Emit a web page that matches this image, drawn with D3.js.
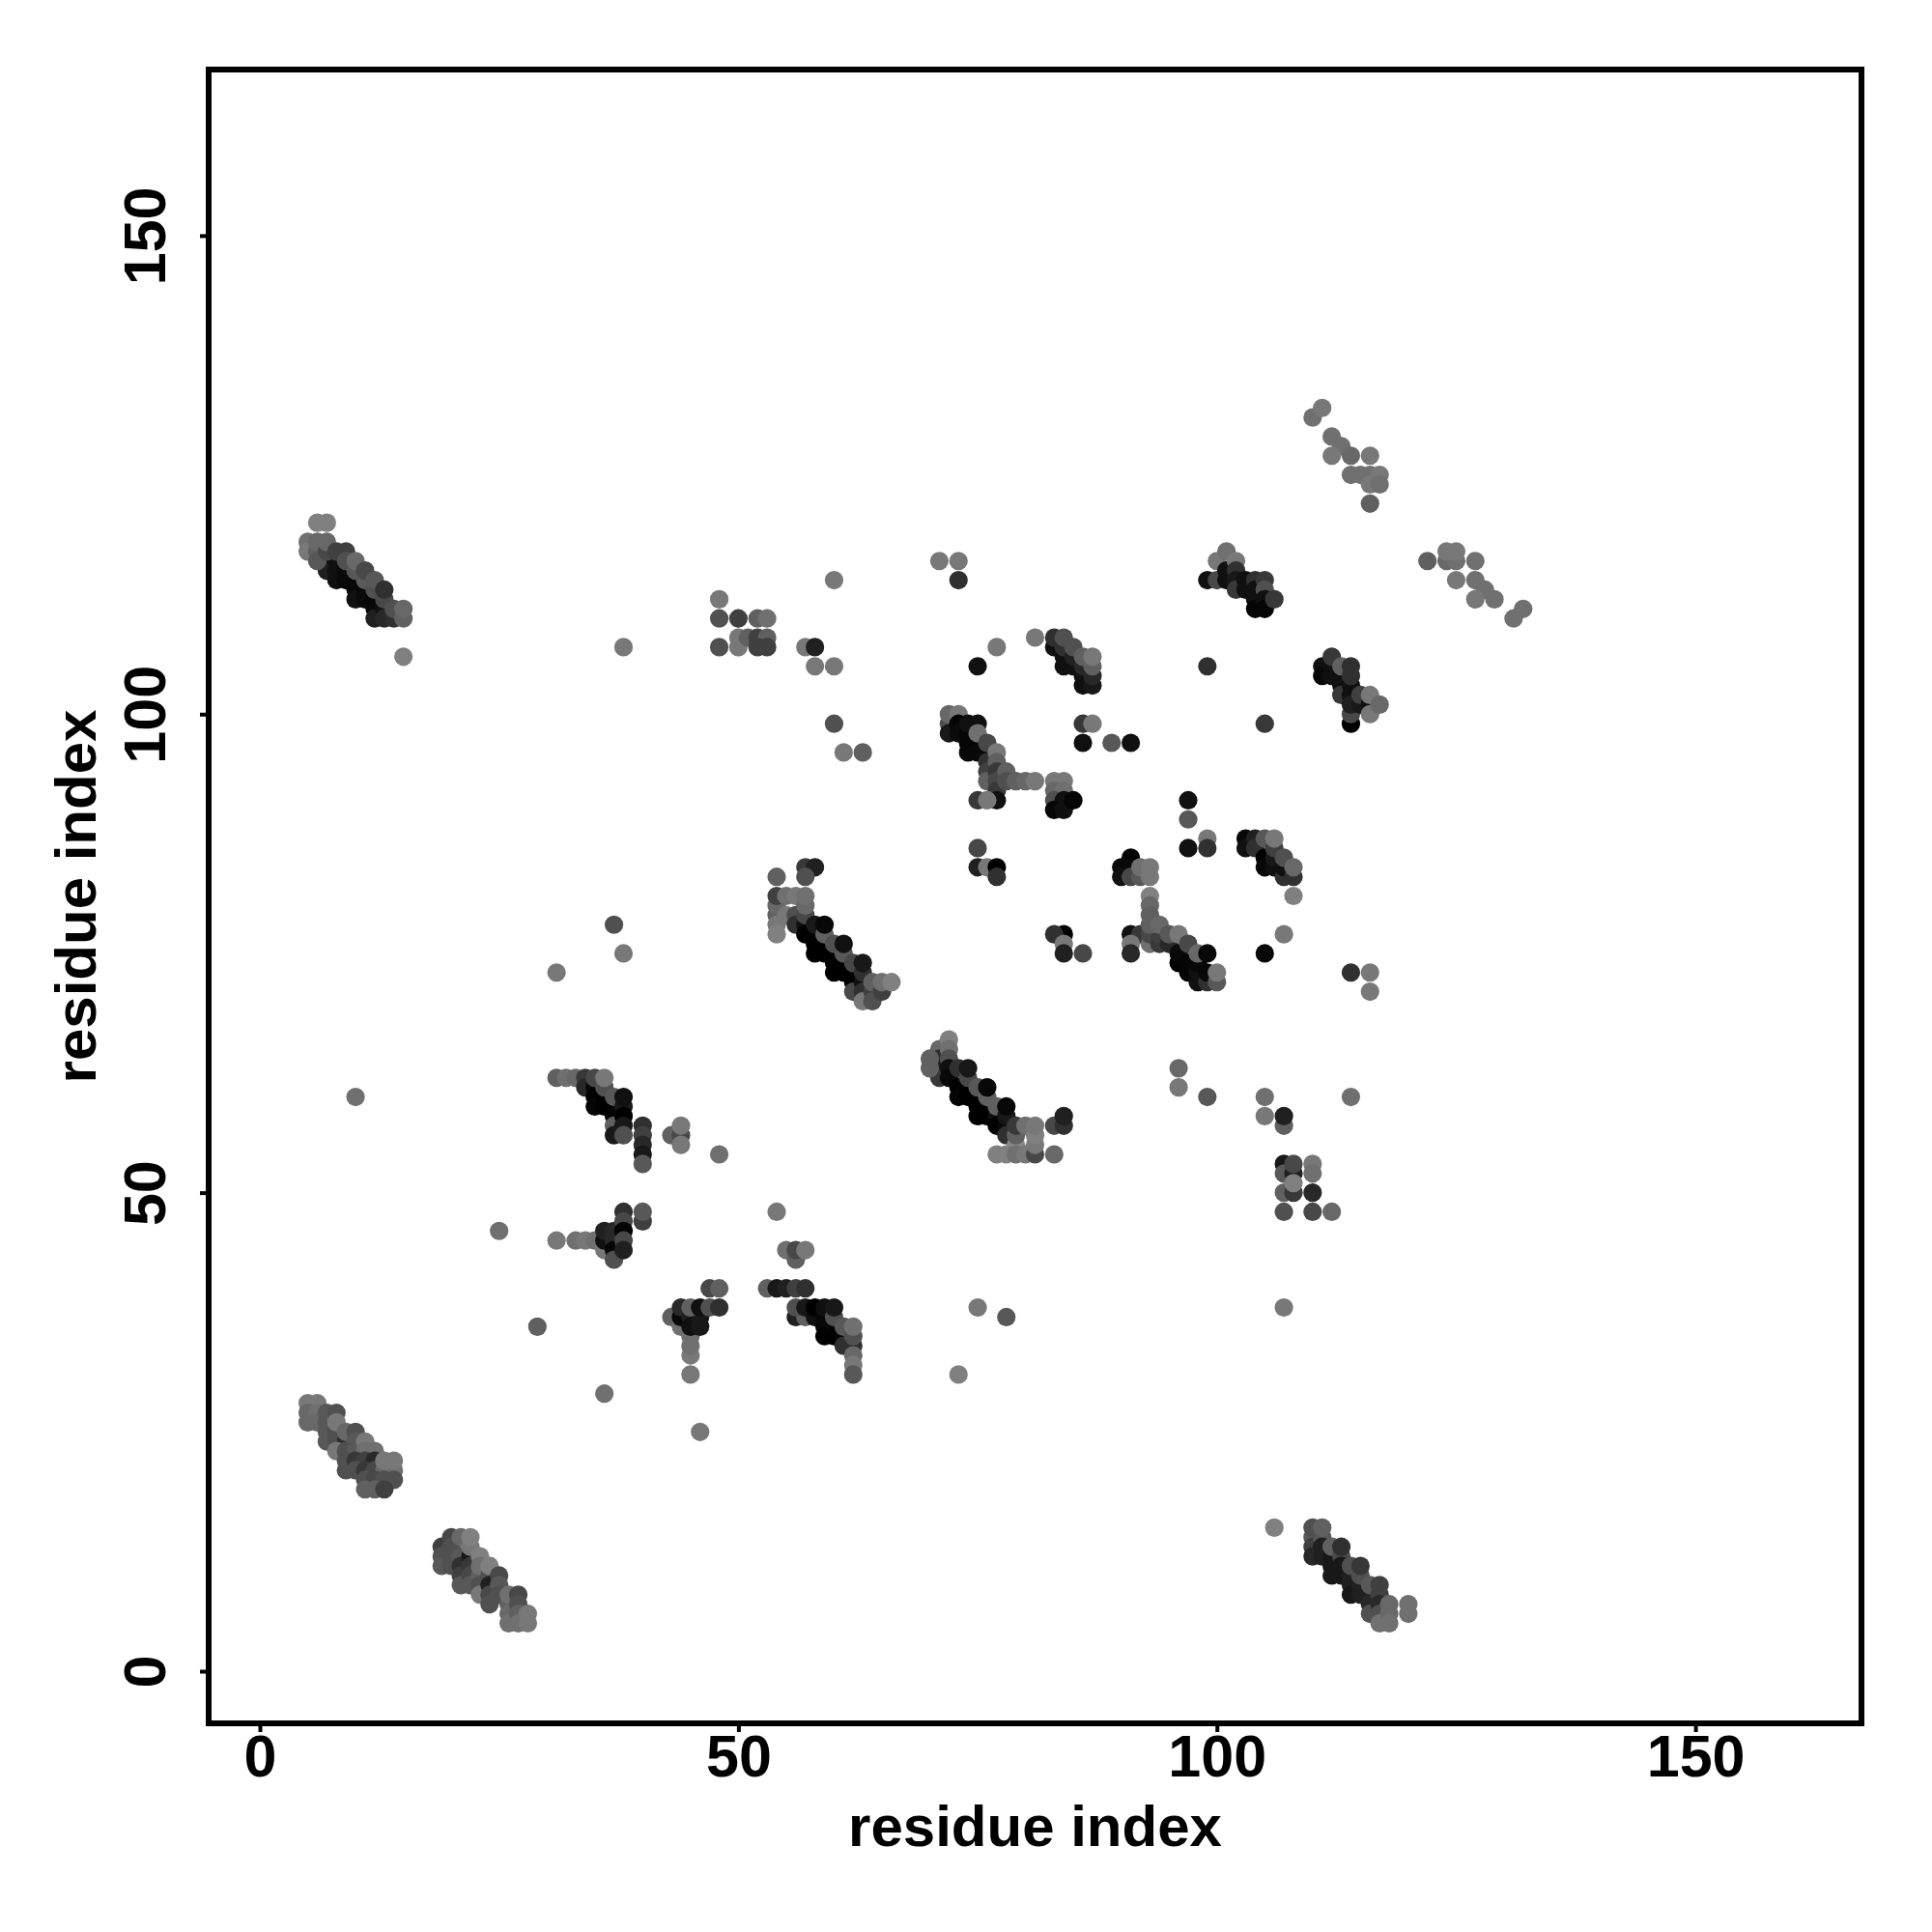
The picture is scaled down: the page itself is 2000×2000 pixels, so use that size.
<!DOCTYPE html>
<html><head><meta charset="utf-8"><script src="https://cdn.jsdelivr.net/npm/d3@7"></script>
<style>html,body{margin:0;background:#fff}</style></head><body><svg id="c" width="2000" height="2000"></svg>
<script>
const tickValues=[0,50,100,150];
const axisLabel="residue index";
// [residue x, residue y, grey level]
const bandA=[[6,120,128],[7,120,128],[7,116,40],[7,115,32],[8,116,16],[8,115,16],[8,114,16],[9,116,10],[9,115,10],[9,114,10],[10,114,8],[10,113,8],[10,112,16],[11,113,8],[11,112,10],[12,112,8],[12,111,8],[12,110,32],[13,111,16],[13,110,40],[14,110,48],[5,118,112],[5,117,120],[6,117,96],[6,116,88],[6,118,104],[7,117,72],[7,118,104],[8,117,64],[9,117,64],[9,116,80],[10,115,88],[10,116,104],[11,114,90],[11,115,72],[12,113,80],[12,114,88],[13,112,72],[13,113,48],[14,111,80],[15,110,96],[15,111,104],[15,106,128]];
const bandB=[[5,28,120],[6,28,120],[5,27,104],[5,26,104],[6,27,112],[6,26,104],[7,26,88],[7,25,88],[7,24,88],[7,27,88],[8,25,80],[8,24,80],[8,27,80],[8,26,120],[9,24,48],[9,25,104],[10,25,80],[10,24,88],[8,23,120],[9,23,80],[10,23,88],[11,24,120],[11,23,112],[12,23,112],[9,22,80],[9,21,80],[10,22,56],[11,22,64],[12,22,40],[10,21,80],[11,21,56],[12,21,72],[13,21,104],[14,21,112],[13,22,120],[14,22,120],[11,20,80],[12,20,72],[13,20,80],[14,20,80],[11,19,96],[12,19,96],[13,19,64]];
const bandC=[[19,13,64],[19,12,80],[19,11,88],[20,14,72],[20,13,80],[20,12,80],[20,11,80],[21,12,88],[21,11,48],[21,10,64],[21,9,88],[21,14,104],[22,12,24],[22,11,56],[22,10,72],[22,9,88],[22,13,120],[22,14,128],[23,10,96],[23,9,80],[23,8,120],[23,12,128],[23,11,112],[24,10,80],[24,9,32],[24,8,72],[24,7,80],[24,11,128],[25,10,72],[25,9,88],[25,8,80],[26,7,96],[26,6,104],[26,5,112],[26,8,112],[27,8,72],[27,7,80],[27,6,96],[27,5,112],[28,6,120],[28,5,120]];
const bandD=[[106,15,128],[110,14,88],[110,13,64],[110,12,40],[111,14,88],[111,13,32],[111,12,32],[110,15,80],[111,15,96],[112,12,24],[112,11,24],[112,10,24],[112,13,96],[113,12,72],[113,11,24],[113,10,24],[113,13,48],[114,10,32],[114,9,32],[114,8,24],[114,11,80],[115,9,32],[115,8,32],[115,10,80],[115,11,56],[116,8,32],[116,7,40],[116,6,80],[116,9,88],[117,8,64],[117,7,40],[117,6,80],[117,5,112],[117,9,64],[118,7,104],[118,6,104],[118,5,112],[120,7,112],[120,6,112]];
const bandE=[[31,62,96],[32,62,112],[33,62,104],[34,62,56],[34,61,40],[35,61,8],[35,60,0],[35,59,5],[35,62,72],[36,60,0],[36,59,0],[36,61,80],[36,62,120],[37,59,0],[37,58,5],[37,57,96],[37,56,24],[37,60,88],[38,59,24],[38,58,0],[38,57,24],[38,56,80],[38,60,16],[40,57,48],[40,56,64],[40,55,40],[40,54,24],[40,53,88],[43,56,96],[44,56,72],[44,55,120],[44,57,120],[48,54,112]];
const bandF=[[25,46,112],[31,45,120],[33,45,112],[34,45,120],[35,45,112],[36,44,120],[36,45,16],[36,46,32],[37,46,40],[37,45,40],[37,44,5],[37,43,80],[38,48,48],[38,47,72],[38,46,5],[38,45,72],[38,44,32],[40,47,64],[40,48,88]];
const bandG=[[29,36,96],[36,29,112],[46,25,120],[43,37,96],[44,36,112],[45,33,120],[45,34,112],[45,35,112],[45,31,120],[44,37,8],[44,38,40],[45,37,32],[45,36,16],[46,37,24],[46,36,24],[45,38,96],[46,38,16],[47,38,80],[48,38,48],[47,40,72],[48,40,96]];
const bandH=[[55,44,112],[56,43,96],[56,44,72],[57,44,120],[54,48,120],[53,40,96],[54,40,24],[55,40,32],[56,40,64],[57,40,48],[56,37,32],[57,37,96],[56,38,80],[57,38,24],[58,37,16],[58,38,0],[59,36,5],[59,35,0],[59,37,8],[59,38,16],[60,36,5],[60,35,0],[60,37,80],[60,38,24],[61,35,5],[61,34,48],[61,36,88],[62,34,48],[62,35,80],[62,33,104],[62,32,120],[62,31,88],[62,36,112]];
const bandI=[[54,83,96],[57,84,56],[58,84,32],[57,83,80],[54,79,96],[54,78,120],[54,77,128],[54,80,104],[54,81,64],[55,79,120],[55,81,112],[56,79,80],[56,78,48],[56,81,120],[57,78,16],[57,77,0],[57,79,72],[57,80,104],[57,81,112],[58,77,0],[58,76,0],[58,75,0],[58,78,24],[59,76,0],[59,75,0],[59,77,96],[59,78,8],[60,75,0],[60,74,0],[60,73,0],[60,76,80],[61,74,0],[61,73,0],[61,75,88],[61,76,16],[62,73,0],[62,72,0],[62,71,72],[62,74,72],[63,72,16],[63,71,48],[63,70,120],[63,73,48],[63,74,24],[64,71,64],[64,70,80],[64,72,96],[65,71,64],[65,72,112],[66,72,128]];
const bandJ=[[31,73,120],[37,78,80],[38,75,120],[10,60,112],[38,107,120]];
const bandK=[[71,65,104],[71,64,48],[71,63,32],[71,62,56],[70,64,96],[70,63,96],[72,66,128],[72,65,112],[72,64,80],[72,63,16],[72,62,8],[73,61,0],[73,60,5],[73,63,48],[74,61,0],[74,60,0],[74,62,72],[74,63,24],[75,60,0],[75,59,0],[75,58,0],[75,61,88],[76,59,0],[76,58,0],[76,60,96],[76,61,8],[77,58,16],[77,57,0],[77,59,96],[78,57,8],[78,56,48],[78,58,24],[78,59,8],[79,55,136],[79,56,96],[79,57,56],[77,54,128],[78,54,128],[79,54,112],[80,54,120],[80,57,112],[81,54,72],[81,55,120],[81,56,128],[81,57,120],[83,54,104],[83,57,72],[84,57,48],[84,58,32]];
const bandL=[[73,31,128],[75,38,120],[78,37,88],[107,38,120],[96,63,104],[96,61,120],[99,60,88],[105,60,112],[105,58,120],[107,57,96],[107,58,32],[114,60,112],[107,53,24],[107,52,88],[107,50,96],[108,52,32],[108,53,72],[108,50,56],[108,51,128],[107,48,80],[110,53,120],[110,52,112],[110,50,40],[110,48,72],[112,48,104]];
const bandM=[[48,112,120],[48,110,80],[48,107,80],[50,110,64],[50,108,120],[50,107,120],[51,108,96],[52,110,96],[53,110,112],[52,108,64],[53,108,96],[52,107,64],[53,107,64],[57,107,120],[58,107,32],[58,105,120],[60,105,120],[60,114,120],[60,99,80],[61,96,120],[63,96,96]];
const bandN=[[71,116,120],[73,116,120],[73,114,48],[77,107,120],[75,105,16],[81,108,120],[86,99,56],[87,99,120],[86,97,16],[89,97,88],[91,97,16]];
const bandO=[[72,99,80],[72,98,24],[72,100,104],[73,100,120],[73,99,5],[73,98,10],[74,98,5],[74,97,5],[74,96,8],[74,99,16],[75,97,5],[75,96,8],[75,99,16],[75,98,112],[76,96,10],[76,95,48],[76,94,64],[76,97,72],[77,96,120],[77,95,96],[76,93,96],[77,94,56],[77,93,72],[77,92,56],[77,91,16],[75,91,56],[76,91,120],[78,94,96],[78,93,80],[79,93,96],[80,93,104],[81,93,120],[75,86,72],[75,84,32],[76,84,120],[77,84,0],[77,83,48]];
const bandP=[[83,93,120],[84,93,120],[83,92,104],[84,92,112],[83,91,80],[84,91,16],[83,90,8],[84,90,16],[85,91,5],[84,77,0],[83,77,48],[84,76,120],[84,75,32],[86,75,72]];
const bandQ=[[91,85,0],[90,84,8],[91,84,8],[90,83,16],[91,83,72],[92,83,88],[92,84,112],[93,83,120],[93,84,120],[91,77,16],[92,77,56],[91,76,120],[91,75,40],[93,76,112],[93,77,72],[94,76,56],[94,77,64],[93,81,128],[93,80,104],[93,79,96],[93,78,96],[94,78,104],[95,76,40],[95,77,88],[96,74,0],[96,75,10],[96,77,120],[97,74,5],[97,73,5],[97,76,72],[98,72,16],[98,73,16],[98,74,8],[98,75,104],[99,72,48],[99,73,8],[99,75,8],[100,72,88],[100,73,120],[97,91,16],[97,89,88],[97,86,16],[99,87,120],[99,86,48]];
const bandR=[[103,87,8],[103,86,16],[104,87,32],[104,86,48],[105,85,0],[105,84,8],[105,87,88],[106,84,16],[106,85,24],[106,86,64],[106,87,120],[107,83,48],[107,84,16],[107,85,80],[108,83,48],[108,84,104],[108,81,128],[107,77,120],[105,75,8],[114,73,48],[116,73,120],[116,71,120]];
const bandS=[[99,114,16],[100,114,72],[100,116,120],[101,115,16],[101,114,16],[101,117,112],[102,116,120],[102,115,48],[102,114,24],[102,113,56],[103,114,16],[103,113,16],[104,114,48],[104,113,16],[104,112,16],[104,111,5],[105,114,56],[105,113,80],[105,112,16],[105,111,5],[106,112,56],[99,105,48],[105,99,56]];
const bandT=[[111,105,16],[111,104,8],[112,105,16],[112,104,16],[112,106,56],[113,104,16],[113,103,16],[113,102,56],[113,105,96],[114,103,16],[114,102,16],[114,99,0],[114,100,72],[114,101,32],[114,104,48],[114,105,48],[115,101,24],[115,102,64],[116,101,16],[116,100,120],[116,102,120],[117,101,104]];
const bandU=[[110,131,112],[111,132,120],[112,129,112],[113,128,112],[112,127,120],[114,127,104],[116,127,120],[114,125,112],[115,125,112],[116,125,112],[117,125,120],[116,124,120],[117,124,112],[116,122,96],[122,116,96],[124,116,104],[125,116,112],[124,117,120],[125,117,120],[127,116,112],[125,114,120],[127,114,112],[128,113,112],[127,112,120],[129,112,112],[131,110,112],[132,111,112]];
const bandV=[[83,107,16],[83,108,48],[84,106,16],[84,105,16],[84,107,48],[84,108,80],[85,105,16],[85,106,32],[85,107,80],[86,103,16],[86,104,16],[86,105,40],[86,106,96],[87,103,24],[87,104,40],[87,105,96],[87,106,120]];
const points=[bandA,bandB,bandC,bandD,bandE,bandF,bandG,bandH,bandI,bandJ,bandK,bandL,bandM,bandN,bandO,bandP,bandQ,bandR,bandS,bandT,bandU,bandV].flat();

const svg=d3.select("#c");
const L=216,R=1927,T=72,B=1784;
const x=d3.scaleLinear().domain([-5.35,167.35]).range([L,R]);
const y=d3.scaleLinear().domain([-5.45,167.35]).range([B,T]);
const font="'Liberation Sans',Arial,sans-serif";

svg.append("g").selectAll("circle").data(points).join("circle")
 .attr("cx",d=>x(d[0])).attr("cy",d=>y(d[1])).attr("r",9.6)
 .attr("fill",d=>d3.rgb(d[2],d[2],d[2]).formatHex());

svg.append("rect").attr("x",L).attr("y",T).attr("width",R-L).attr("height",B-T)
 .attr("fill","none").attr("stroke","#000").attr("stroke-width",6);

const ax=svg.append("g").attr("transform",`translate(0,${B})`)
 .call(d3.axisBottom(x).tickValues(tickValues).tickSize(9).tickPadding(10).tickFormat(d3.format("d")));
const ay=svg.append("g").attr("transform",`translate(${L},0)`)
 .call(d3.axisLeft(y).tickValues(tickValues).tickSize(9).tickPadding(0).tickFormat(d3.format("d")));
[ax,ay].forEach(g=>{g.select(".domain").remove();
 g.selectAll("line").attr("stroke","#000").attr("stroke-width",4);
 g.selectAll("text").attr("fill","#000").style("font",`bold 61px ${font}`);});
ax.selectAll("text").attr("y",null).attr("dy",null).attr("text-anchor","middle").attr("y",55);
ay.selectAll("text").attr("x",null).attr("dy",null)
 .attr("text-anchor","middle")
 .attr("transform","translate(-45,0) rotate(-90)")
 .attr("x",0).attr("y",0);

svg.append("text").attr("x",(L+R)/2).attr("y",1911).attr("text-anchor","middle")
 .style("font",`bold 60px ${font}`).text(axisLabel);
svg.append("text").attr("transform",`translate(99,${(T+B)/2}) rotate(-90)`).attr("text-anchor","middle")
 .style("font",`bold 60px ${font}`).text(axisLabel);
</script></body></html>
